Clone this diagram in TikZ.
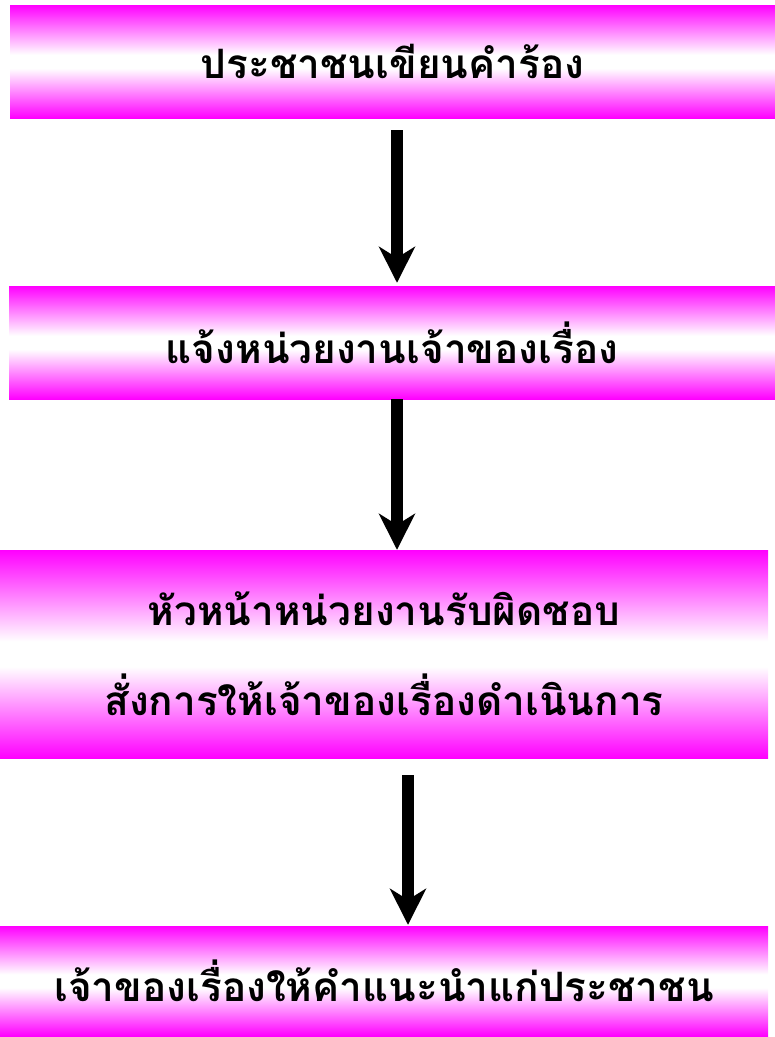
\documentclass[tikz,border=0pt]{standalone}
\usepackage{fontspec}
\newfontfamily\thaifont[Script=Thai]{Loma}
\usetikzlibrary{arrows.meta}
\pgfdeclareverticalshading{pinkband}{100bp}{color(0bp)=(magenta); color(25bp)=(magenta); color(47bp)=(white); color(53bp)=(white); color(75bp)=(magenta); color(100bp)=(magenta)}
\begin{document}
\begin{tikzpicture}[x=1pt,y=-1pt,
  box/.style={rectangle, inner sep=0pt, shading=pinkband, align=center,
    font=\thaifont\bfseries\fontsize{40.5}{90}\selectfont},
  arr/.style={line width=12pt, -{Stealth[length=36pt,width=36pt,inset=11pt]}}]
\useasboundingbox (0,0) rectangle (775,1037);
\node[box, minimum width=765pt, minimum height=113pt] (b1) at (392.5,61.5) {ประชาชนเขียนคำร้อง};
\node[box, minimum width=766pt, minimum height=113pt] (b2) at (392,342.5) {แจ้งหน่วยงานเจ้าของเรื่อง};
\node[box, minimum width=768pt, minimum height=208pt] (b3) at (384,654) {หัวหน้าหน่วยงานรับผิดชอบ\\สั่งการให้เจ้าของเรื่องดำเนินการ};
\node[box, minimum width=768pt, minimum height=110pt] (b4) at (384,981) {เจ้าของเรื่องให้คำแนะนำแก่ประชาชน};
\draw[arr, shorten <=12pt, shorten >=3pt] ([xshift=4.5pt]b1.south) -- ([xshift=4.5pt]b1.south |- b2.north);
\draw[arr] ([xshift=5pt]b2.south) -- ([xshift=5pt]b2.south |- b3.north);
\draw[arr, shorten <=17pt, shorten >=1pt] ([xshift=24pt]b3.south) -- ([xshift=24pt]b3.south |- b4.north);
\end{tikzpicture}
\end{document}
